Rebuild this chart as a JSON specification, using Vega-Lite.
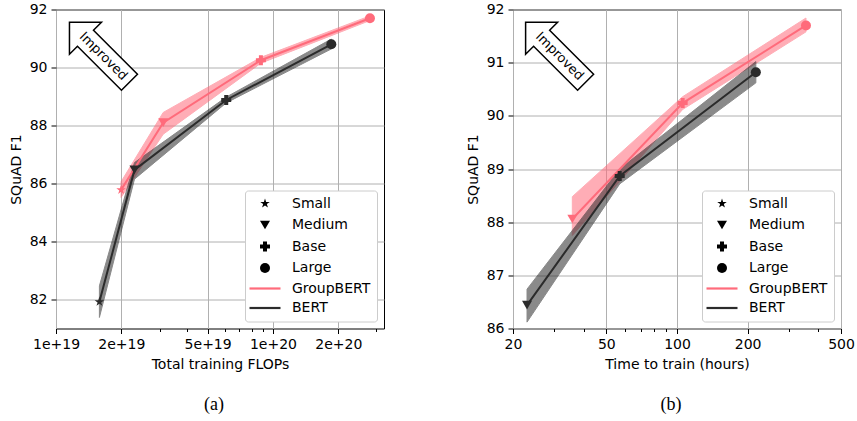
{
  "$schema": "https://vega.github.io/schema/vega-lite/v6.json",
  "background": "white",
  "padding": {"left": 8, "top": 1.5, "right": 5, "bottom": 3},
  "spacing": 80,
  "datasets": {
    "flops": [
      {"model": "GroupBERT", "size": "Small", "cost": 1.995e19, "f1": 85.78, "lo": 85.52, "hi": 86.06},
      {"model": "GroupBERT", "size": "Medium", "cost": 3.12e19, "f1": 88.10, "lo": 87.70, "hi": 88.45},
      {"model": "GroupBERT", "size": "Base", "cost": 8.8e19, "f1": 90.25, "lo": 90.15, "hi": 90.35},
      {"model": "GroupBERT", "size": "Large", "cost": 2.80e20, "f1": 91.70, "lo": 91.62, "hi": 91.78},
      {"model": "BERT", "size": "Small", "cost": 1.585e19, "f1": 81.92, "lo": 81.38, "hi": 82.47},
      {"model": "BERT", "size": "Medium", "cost": 2.30e19, "f1": 86.47, "lo": 86.15, "hi": 86.72},
      {"model": "BERT", "size": "Base", "cost": 6.09e19, "f1": 88.88, "lo": 88.78, "hi": 88.98},
      {"model": "BERT", "size": "Large", "cost": 1.858e20, "f1": 90.80, "lo": 90.64, "hi": 90.98}
    ],
    "time": [
      {"model": "GroupBERT", "size": "Medium", "cost": 35.8, "f1": 88.06, "lo": 87.75, "hi": 88.48},
      {"model": "GroupBERT", "size": "Base", "cost": 105.7, "f1": 90.24, "lo": 90.12, "hi": 90.36},
      {"model": "GroupBERT", "size": "Large", "cost": 354.6, "f1": 91.70, "lo": 91.58, "hi": 91.84},
      {"model": "BERT", "size": "Medium", "cost": 22.95, "f1": 86.44, "lo": 86.12, "hi": 86.74},
      {"model": "BERT", "size": "Base", "cost": 57.0, "f1": 88.87, "lo": 88.72, "hi": 89.0},
      {"model": "BERT", "size": "Large", "cost": 216.8, "f1": 90.82, "lo": 90.62, "hi": 91.02}
    ],
    "arrowA": [{"cost": 1.655e19, "f1": 90.39, "label": "Improved"}],
    "arrowB": [{"cost": 31.6, "f1": 91.12, "label": "Improved"}]
  },
  "hconcat": [
    {
      "width": 328,
      "height": 319,
      "title": {"text": "(a)", "orient": "bottom", "frame": "group", "dx": -6, "offset": 24, "font": "Liberation Serif", "fontSize": 18, "fontWeight": "normal", "color": "black"},
      "layer": [
        {
          "data": {"name": "flops"},
          "mark": {"type": "area", "opacity": 0.55, "strokeWidth": 1},
          "encoding": {
            "x": {"field": "cost", "type": "quantitative", "title": "Total training FLOPs",
                  "scale": {"type": "log", "domain": [1e19, 3.25e20], "nice": false},
                  "axis": {"values": [1e19, 2e19, 5e19, 1e20, 2e20], "labelExpr": "format(datum.value, '.0e')", "labelOverlap": false, "labelFlush": false, "grid": true}},
            "y": {"field": "lo", "type": "quantitative", "title": "SQuAD F1",
                  "scale": {"domain": [81, 92], "nice": false, "zero": false},
                  "axis": {"orient": "left", "values": [82, 84, 86, 88, 90, 92], "grid": true}},
            "y2": {"field": "hi"},
            "color": {"field": "model", "type": "nominal", "scale": {"domain": ["GroupBERT", "BERT"], "range": ["#ff6b7b", "#2b2b2b"]}, "legend": null},
            "stroke": {"field": "model", "type": "nominal", "scale": {"domain": ["GroupBERT", "BERT"], "range": ["#ff6b7b", "#2b2b2b"]}, "legend": null}
          }
        },
        {
          "data": {"name": "flops"},
          "mark": {"type": "line", "strokeWidth": 2},
          "encoding": {
            "x": {"field": "cost", "type": "quantitative", "axis": null},
            "y": {"field": "f1", "type": "quantitative", "axis": null},
            "color": {"field": "model", "type": "nominal", "scale": {"domain": ["GroupBERT", "BERT"], "range": ["#ff6b7b", "#2b2b2b"]}, "legend": null}
          }
        },
        {
          "data": {"name": "flops"},
          "mark": {"type": "point", "filled": true, "opacity": 1, "size": 100},
          "encoding": {
            "x": {"field": "cost", "type": "quantitative", "axis": null},
            "y": {"field": "f1", "type": "quantitative", "axis": null},
            "color": {"field": "model", "type": "nominal", "scale": {"domain": ["GroupBERT", "BERT"], "range": ["#ff6b7b", "#2b2b2b"]}, "legend": null},
            "shape": {"field": "size", "type": "nominal",
              "scale": {"domain": ["Small", "Medium", "Base", "Large"],
                        "range": ["M0,-1L0.2245,-0.309L0.9511,-0.309L0.3633,0.118L0.5878,0.809L0,0.382L-0.5878,0.809L-0.3633,0.118L-0.9511,-0.309L-0.2245,-0.309Z", "triangle-down", "cross", "circle"]},
              "legend": null}
          }
        },
        {
          "data": {"name": "flops"},
          "transform": [{"filter": "false"}],
          "mark": {"type": "point", "filled": true, "opacity": 1, "size": 90},
          "encoding": {
            "x": {"field": "cost", "type": "quantitative", "axis": null},
            "y": {"field": "f1", "type": "quantitative", "axis": null},
            "color": {"field": "key", "type": "nominal",
              "scale": {"domain": ["Small", "Medium", "Base", "Large", "GroupBERT", "BERT"], "range": ["black", "black", "black", "black", "#ff6b7b", "#2b2b2b"]},
              "legend": {"title": null, "orient": "bottom-right", "offset": 7, "padding": 6, "symbolOffset": 7, "labelOffset": 20, "symbolSize": 100, "rowPadding": 5.5,
                         "labelFontSize": 14, "labelFont": "DejaVu Sans", "labelColor": "black", "strokeColor": "#cccccc", "fillColor": "white", "cornerRadius": 3, "symbolLimit": 0, "symbolOpacity": 1}},
            "shape": {"field": "key", "type": "nominal",
              "scale": {"domain": ["Small", "Medium", "Base", "Large", "GroupBERT", "BERT"],
                        "range": ["M0,-1L0.2245,-0.309L0.9511,-0.309L0.3633,0.118L0.5878,0.809L0,0.382L-0.5878,0.809L-0.3633,0.118L-0.9511,-0.309L-0.2245,-0.309Z", "triangle-down", "cross", "circle", "M-3.1,-0.22L3.1,-0.22L3.1,0.22L-3.1,0.22Z", "M-3.1,-0.22L3.1,-0.22L3.1,0.22L-3.1,0.22Z"]},
              "legend": {"title": null, "orient": "bottom-right", "offset": 7, "padding": 6, "symbolOffset": 7, "labelOffset": 20, "symbolSize": 100, "rowPadding": 5.5,
                         "labelFontSize": 14, "labelFont": "DejaVu Sans", "labelColor": "black", "strokeColor": "#cccccc", "fillColor": "white", "cornerRadius": 3, "symbolLimit": 0, "symbolOpacity": 1}}
          }
        },
        {
          "data": {"name": "arrowA"},
          "mark": {"type": "point", "shape": "M-1,-1L-0.059,-1L-0.294,-0.765L1,0.529L0.529,1L-0.765,-0.294L-1,-0.059Z", "size": 4624, "filled": true, "fill": "white", "stroke": "black", "strokeWidth": 1.5, "opacity": 1, "strokeJoin": "miter"},
          "encoding": {
            "x": {"field": "cost", "type": "quantitative", "axis": null},
            "y": {"field": "f1", "type": "quantitative", "axis": null}
          }
        },
        {
          "data": {"name": "arrowA"},
          "mark": {"type": "text", "angle": 45, "font": "DejaVu Sans", "fontSize": 13, "color": "black", "align": "center", "baseline": "middle"},
          "encoding": {
            "x": {"field": "cost", "type": "quantitative", "axis": null},
            "y": {"field": "f1", "type": "quantitative", "axis": null},
            "text": {"field": "label"}
          }
        },
        {
          "data": {"name": "flops"},
          "mark": {"type": "point", "opacity": 0},
          "encoding": {
            "x": {"field": "cost", "type": "quantitative", "axis": {"orient": "bottom", "values": [3e19, 4e19, 6e19, 7e19, 8e19, 9e19, 3e20], "labels": false, "grid": false, "tickSize": 3, "title": null, "domain": false}},
            "y": {"field": "f1", "type": "quantitative", "axis": null}
          }
        }
      ],
      "resolve": {"axis": {"x": "independent", "y": "independent"}, "scale": {"color": "independent", "shape": "independent"}}
    },
    {
      "width": 328,
      "height": 319,
      "title": {"text": "(b)", "orient": "bottom", "frame": "group", "dx": -6, "offset": 24, "font": "Liberation Serif", "fontSize": 18, "fontWeight": "normal", "color": "black"},
      "layer": [
        {
          "data": {"name": "time"},
          "mark": {"type": "area", "opacity": 0.55, "strokeWidth": 1},
          "encoding": {
            "x": {"field": "cost", "type": "quantitative", "title": "Time to train (hours)",
                  "scale": {"type": "log", "domain": [20, 500], "nice": false},
                  "axis": {"values": [20, 50, 100, 200, 500], "format": "d", "labelOverlap": false, "labelFlush": false, "grid": true}},
            "y": {"field": "lo", "type": "quantitative", "title": "SQuAD F1",
                  "scale": {"domain": [86, 92], "nice": false, "zero": false},
                  "axis": {"orient": "left", "values": [86, 87, 88, 89, 90, 91, 92], "grid": true}},
            "y2": {"field": "hi"},
            "color": {"field": "model", "type": "nominal", "scale": {"domain": ["GroupBERT", "BERT"], "range": ["#ff6b7b", "#2b2b2b"]}, "legend": null},
            "stroke": {"field": "model", "type": "nominal", "scale": {"domain": ["GroupBERT", "BERT"], "range": ["#ff6b7b", "#2b2b2b"]}, "legend": null}
          }
        },
        {
          "data": {"name": "time"},
          "mark": {"type": "line", "strokeWidth": 2},
          "encoding": {
            "x": {"field": "cost", "type": "quantitative", "axis": null},
            "y": {"field": "f1", "type": "quantitative", "axis": null},
            "color": {"field": "model", "type": "nominal", "scale": {"domain": ["GroupBERT", "BERT"], "range": ["#ff6b7b", "#2b2b2b"]}, "legend": null}
          }
        },
        {
          "data": {"name": "time"},
          "mark": {"type": "point", "filled": true, "opacity": 1, "size": 100},
          "encoding": {
            "x": {"field": "cost", "type": "quantitative", "axis": null},
            "y": {"field": "f1", "type": "quantitative", "axis": null},
            "color": {"field": "model", "type": "nominal", "scale": {"domain": ["GroupBERT", "BERT"], "range": ["#ff6b7b", "#2b2b2b"]}, "legend": null},
            "shape": {"field": "size", "type": "nominal",
              "scale": {"domain": ["Small", "Medium", "Base", "Large"],
                        "range": ["M0,-1L0.2245,-0.309L0.9511,-0.309L0.3633,0.118L0.5878,0.809L0,0.382L-0.5878,0.809L-0.3633,0.118L-0.9511,-0.309L-0.2245,-0.309Z", "triangle-down", "cross", "circle"]},
              "legend": null}
          }
        },
        {
          "data": {"name": "time"},
          "transform": [{"filter": "false"}],
          "mark": {"type": "point", "filled": true, "opacity": 1, "size": 90},
          "encoding": {
            "x": {"field": "cost", "type": "quantitative", "axis": null},
            "y": {"field": "f1", "type": "quantitative", "axis": null},
            "color": {"field": "key", "type": "nominal",
              "scale": {"domain": ["Small", "Medium", "Base", "Large", "GroupBERT", "BERT"], "range": ["black", "black", "black", "black", "#ff6b7b", "#2b2b2b"]},
              "legend": {"title": null, "orient": "bottom-right", "offset": 7, "padding": 6, "symbolOffset": 7, "labelOffset": 20, "symbolSize": 100, "rowPadding": 5.5,
                         "labelFontSize": 14, "labelFont": "DejaVu Sans", "labelColor": "black", "strokeColor": "#cccccc", "fillColor": "white", "cornerRadius": 3, "symbolLimit": 0, "symbolOpacity": 1}},
            "shape": {"field": "key", "type": "nominal",
              "scale": {"domain": ["Small", "Medium", "Base", "Large", "GroupBERT", "BERT"],
                        "range": ["M0,-1L0.2245,-0.309L0.9511,-0.309L0.3633,0.118L0.5878,0.809L0,0.382L-0.5878,0.809L-0.3633,0.118L-0.9511,-0.309L-0.2245,-0.309Z", "triangle-down", "cross", "circle", "M-3.1,-0.22L3.1,-0.22L3.1,0.22L-3.1,0.22Z", "M-3.1,-0.22L3.1,-0.22L3.1,0.22L-3.1,0.22Z"]},
              "legend": {"title": null, "orient": "bottom-right", "offset": 7, "padding": 6, "symbolOffset": 7, "labelOffset": 20, "symbolSize": 100, "rowPadding": 5.5,
                         "labelFontSize": 14, "labelFont": "DejaVu Sans", "labelColor": "black", "strokeColor": "#cccccc", "fillColor": "white", "cornerRadius": 3, "symbolLimit": 0, "symbolOpacity": 1}}
          }
        },
        {
          "data": {"name": "arrowB"},
          "mark": {"type": "point", "shape": "M-1,-1L-0.059,-1L-0.294,-0.765L1,0.529L0.529,1L-0.765,-0.294L-1,-0.059Z", "size": 4624, "filled": true, "fill": "white", "stroke": "black", "strokeWidth": 1.5, "opacity": 1, "strokeJoin": "miter"},
          "encoding": {
            "x": {"field": "cost", "type": "quantitative", "axis": null},
            "y": {"field": "f1", "type": "quantitative", "axis": null}
          }
        },
        {
          "data": {"name": "arrowB"},
          "mark": {"type": "text", "angle": 45, "font": "DejaVu Sans", "fontSize": 13, "color": "black", "align": "center", "baseline": "middle"},
          "encoding": {
            "x": {"field": "cost", "type": "quantitative", "axis": null},
            "y": {"field": "f1", "type": "quantitative", "axis": null},
            "text": {"field": "label"}
          }
        },
        {
          "data": {"name": "time"},
          "mark": {"type": "point", "opacity": 0},
          "encoding": {
            "x": {"field": "cost", "type": "quantitative", "axis": {"orient": "bottom", "values": [30, 40, 60, 70, 80, 90, 300, 400], "labels": false, "grid": false, "tickSize": 3, "title": null, "domain": false}},
            "y": {"field": "f1", "type": "quantitative", "axis": null}
          }
        }
      ],
      "resolve": {"axis": {"x": "independent", "y": "independent"}, "scale": {"color": "independent", "shape": "independent"}}
    }
  ],
  "resolve": {
    "scale": {"x": "independent", "y": "independent", "shape": "independent", "color": "independent", "stroke": "independent"},
    "legend": {"shape": "independent", "color": "independent"}
  },
  "config": {
    "view": {"stroke": "black", "strokeWidth": 1},
    "axis": {
      "domain": false,
      "tickColor": "black", "tickSize": 5, "tickWidth": 1,
      "labelFont": "DejaVu Sans", "labelFontSize": 14, "labelColor": "black", "labelPadding": 4,
      "titleFont": "DejaVu Sans", "titleFontSize": 14, "titleFontWeight": "normal", "titleColor": "black", "titlePadding": 6,
      "gridColor": "#b0b0b0", "gridWidth": 1, "gridOpacity": 1
    }
  }
}
